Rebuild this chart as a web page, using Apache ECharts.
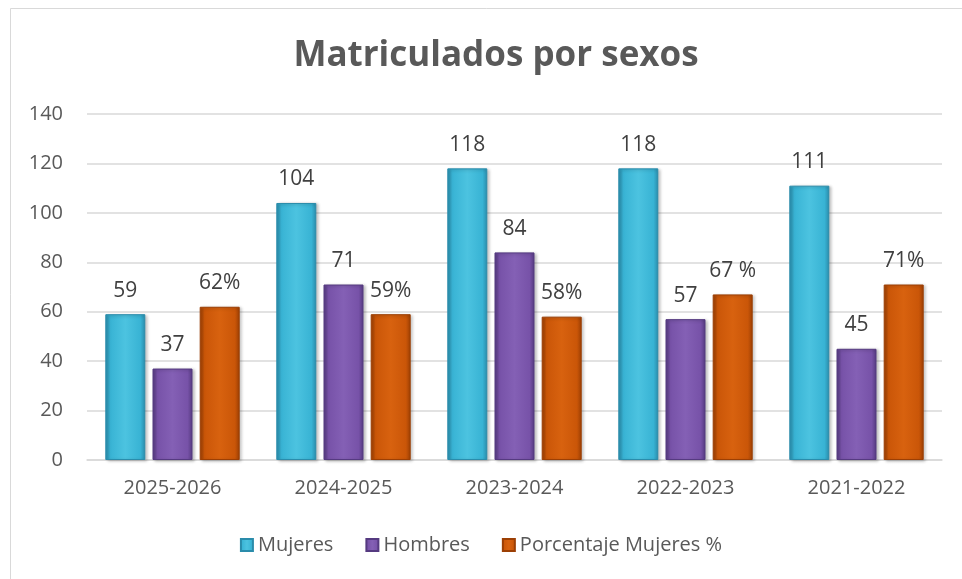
<!DOCTYPE html>
<html lang="es">
  <head>
    <meta charset="UTF-8" />
    <title>Matriculados por sexos</title>
    <script src="https://cdn.jsdelivr.net/npm/echarts@6/dist/echarts.min.js"></script>
    <style>
      html, body { margin: 0; padding: 0; background: #fff; }
    </style>
  </head>
  <body>
    <div id="chart" style="width: 962px; height: 579px"></div>
  </body>
  <script>
    // datos
    const cursos = ["2025-2026", "2024-2025", "2023-2024", "2022-2023", "2021-2022"];
    const mujeres = [59, 104, 118, 118, 111];
    const hombres = [37, 71, 84, 57, 45];
    const porcentaje = [62, 59, 58, 67, 71];
    const porcentajeEtiquetas = ["62%", "59%", "58%", "67 %", "71%"];
    const yTicks = [0, 20, 40, 60, 80, 100, 120, 140];

    const font = "'Open Sans', 'Noto Sans', sans-serif";

    // degradado horizontal para imitar el bisel
    function bevel(edge, mid, light) {
      return new echarts.graphic.LinearGradient(0, 0, 1, 0, [
        { offset: 0, color: edge },
        { offset: 0.12, color: mid },
        { offset: 0.5, color: light },
        { offset: 0.88, color: mid },
        { offset: 1, color: edge },
      ]);
    }

    function barSerie(name, data, edge, mid, light, labels) {
      return {
        name: name,
        type: "bar",
        data: data,
        barWidth: 40,
        barGap: "18%",
        itemStyle: {
          color: bevel(edge, mid, light),
          borderColor: edge,
          borderWidth: 1,
          shadowColor: "rgba(0,0,0,0.25)",
          shadowBlur: 3,
          shadowOffsetX: 2,
          shadowOffsetY: 1,
        },
        label: {
          show: true,
          position: "top",
          distance: 13,
          color: "#404040",
          fontSize: 21,
          fontFamily: font,
          formatter: labels ? (p) => labels[p.dataIndex] : "{c}",
        },
      };
    }

    const chart = echarts.init(document.getElementById("chart"));
    chart.setOption({
      backgroundColor: "#fff",
      animation: false,
      title: {
        text: "Matriculados por sexos",
        left: 491,
        textAlign: "center",
        top: 34,
        textStyle: { color: "#595959", fontSize: 35, fontWeight: "bold", fontFamily: font },
      },
      graphic: [
        {
          type: "rect",
          shape: { x: 10.5, y: 8.5, width: 1000, height: 1000 },
          style: { fill: "none", stroke: "#d9d9d9", lineWidth: 1 },
          silent: true,
        },
      ],
      legend: {
        bottom: 19,
        left: "center",
        icon: "rect",
        itemWidth: 12,
        itemHeight: 12,
        itemGap: 32,
        textStyle: { color: "#595959", fontSize: 20, fontFamily: font },
        data: ["Mujeres", "Hombres", "Porcentaje Mujeres %"],
      },
      grid: { left: 87, right: 20, top: 114, bottom: 119 },
      xAxis: {
        type: "category",
        data: cursos,
        axisTick: { show: false },
        axisLine: { lineStyle: { color: "#d9d9d9", width: 1.5 } },
        axisLabel: { color: "#595959", fontSize: 20, fontFamily: font, margin: 18 },
      },
      yAxis: {
        type: "value",
        min: yTicks[0],
        max: yTicks[yTicks.length - 1],
        interval: 20,
        axisLine: { show: false },
        axisTick: { show: false },
        splitLine: { lineStyle: { color: "#d9d9d9", width: 1.5 } },
        axisLabel: { color: "#595959", fontSize: 20, fontFamily: font, margin: 24 },
      },
      series: [
        barSerie("Mujeres", mujeres, "#2a8cab", "#38b3d4", "#4cc3e0"),
        barSerie("Hombres", hombres, "#553a80", "#7752a8", "#8460b5"),
        barSerie("Porcentaje Mujeres %", porcentaje, "#9c3f04", "#ca5608", "#d8620f", porcentajeEtiquetas),
      ],
    });
  </script>
</html>
